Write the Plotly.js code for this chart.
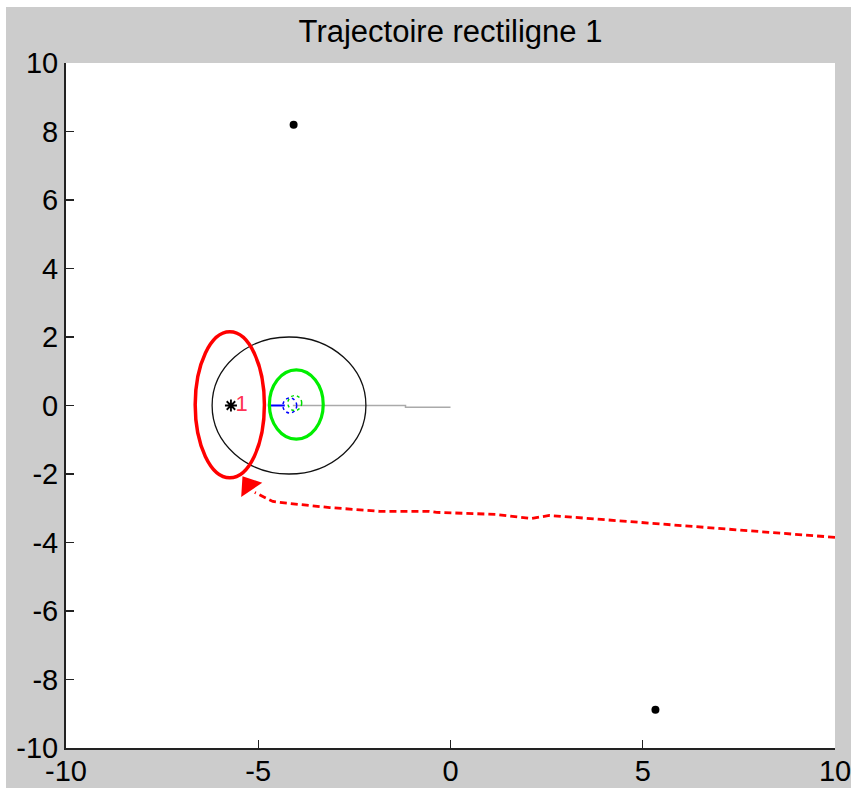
<!DOCTYPE html>
<html>
<head>
<meta charset="utf-8">
<script src="https://cdn.plot.ly/plotly-3.0.1.min.js"></script>
<style>html,body{margin:0;padding:0;background:#fff;}#chart{width:851px;height:788px;}</style>
</head>
<body>
<div id="chart"></div>
<script>
// ---- data ----
const pointsX = [-4.08, 5.33];
const pointsY = [8.2, -8.88];

const trajX = [10, 2.57, 2.10, 1.19, -0.36, -0.55, -1.84, -3.14, -4.44, -4.62, -5.09];
const trajY = [-3.85, -3.21, -3.30, -3.18, -3.12, -3.09, -3.09, -2.98, -2.83, -2.80, -2.54];

const arrowX = [-5.25];
const arrowY = [-2.33];

const headingX = [-4.75, -4.31];
const headingY = [0, 0];

const refLineX = [-4.1, -1.17, -1.17, 0];
const refLineY = [0, 0, -0.05, -0.05];

const targetX = [-5.71];
const targetY = [0.0];
const targetLabel = ['1'];
const labelX = [-5.43];
const labelY = [0.0];

// ellipses: center x, center y, semi-axis x, semi-axis y
const ellName = ['range', 'redEllipse', 'greenEllipse', 'blueSmall', 'greenSmall'];
const ellCx = [-4.2, -5.74, -4.01, -4.18, -4.05];
const ellCy = [0.0, 0.02, 0.03, 0.0, 0.07];
const ellRx = [2.0, 0.90, 0.70, 0.18, 0.18];
const ellRy = [2.0, 2.13, 1.01, 0.22, 0.22];

const xTicks = [-10, -5, 0, 5, 10];
const yTicks = [-10, -8, -6, -4, -2, 0, 2, 4, 6, 8, 10];

// ---- styles ----
const ellStyle = [
  {color: '#111111', width: 1.3, dash: 'solid'},
  {color: '#ff0000', width: 3.5, dash: 'solid'},
  {color: '#00ee00', width: 3.2, dash: 'solid'},
  {color: '#0000ff', width: 1.5, dash: 'dot'},
  {color: '#00dd00', width: 1.5, dash: 'dot'}
];

const shapes = ellName.map((n, i) => ({
  type: 'circle', xref: 'x', yref: 'y',
  x0: ellCx[i] - ellRx[i], x1: ellCx[i] + ellRx[i],
  y0: ellCy[i] - ellRy[i], y1: ellCy[i] + ellRy[i],
  line: ellStyle[i], layer: 'above'
}));

// white strips at top and left of the figure
const W = 851, H = 788, mL = 66, mR = 16, mT = 63, mB = 40;
const pw = W - mL - mR, ph = H - mT - mB;
shapes.unshift(
  {type: 'rect', xref: 'paper', yref: 'paper', x0: -mL / pw, x1: 1 + mR / pw, y0: 1 + (mT - 7) / ph, y1: 1 + mT / ph,
   fillcolor: '#ffffff', line: {width: 0}, layer: 'below'},
  {type: 'rect', xref: 'paper', yref: 'paper', x0: -mL / pw, x1: (-mL + 6) / pw, y0: -mB / ph, y1: 1 + mT / ph,
   fillcolor: '#ffffff', line: {width: 0}, layer: 'below'}
);

const traces = [
  {x: refLineX, y: refLineY, mode: 'lines', line: {color: '#aaaaaa', width: 1.5}, hoverinfo: 'skip'},
  {x: headingX, y: headingY, mode: 'lines', line: {color: '#0000ff', width: 2}, hoverinfo: 'skip'},
  {x: trajX, y: trajY, mode: 'lines', line: {color: '#ff0000', width: 2.8, dash: '7px,4px'}, hoverinfo: 'skip'},
  {x: arrowX, y: arrowY, mode: 'markers', marker: {symbol: 'triangle-up', size: 22, angle: -34, color: '#ff0000', line: {width: 0}}},
  {x: pointsX, y: pointsY, mode: 'markers', marker: {symbol: 'circle', size: 8, color: '#000000'}},
  {x: targetX, y: targetY, mode: 'markers', marker: {symbol: 'asterisk-open', size: 10, color: '#000000', line: {color: '#000000', width: 1.8}}},
  {x: labelX, y: labelY, mode: 'text', text: targetLabel, textposition: 'middle center',
   textfont: {family: 'Liberation Sans, Arial, sans-serif', size: 22, color: '#ff3355'}}
];

const axisCommon = {
  range: [-10, 10], ticks: 'inside', ticklen: 8, tickwidth: 1.2, tickcolor: '#222222',
  showline: true, linecolor: '#222222', linewidth: 2, showgrid: false, zeroline: false,
  mirror: false, fixedrange: true, ticklabeloverflow: 'allow',
  tickfont: {family: 'Liberation Sans, Arial, sans-serif', size: 29, color: '#000000'}
};

const layout = {
  width: W, height: H,
  margin: {l: mL, r: mR, t: mT, b: mB, pad: 0},
  paper_bgcolor: '#cccccc', plot_bgcolor: '#ffffff',
  showlegend: false,
  title: {text: 'Trajectoire rectiligne 1', x: 0.5, xref: 'paper', y: 1 - 31 / H, yref: 'container', yanchor: 'middle',
          font: {family: 'Liberation Sans, Arial, sans-serif', size: 31, color: '#000000'}},
  xaxis: Object.assign({}, axisCommon, {tickvals: xTicks, ticktext: xTicks.map(String), ticklabelstandoff: -4}),
  yaxis: Object.assign({}, axisCommon, {tickvals: yTicks, ticktext: yTicks.map(String)}),
  shapes: shapes
};

Plotly.newPlot('chart', traces, layout, {displayModeBar: false, staticPlot: true});
</script>
</body>
</html>
